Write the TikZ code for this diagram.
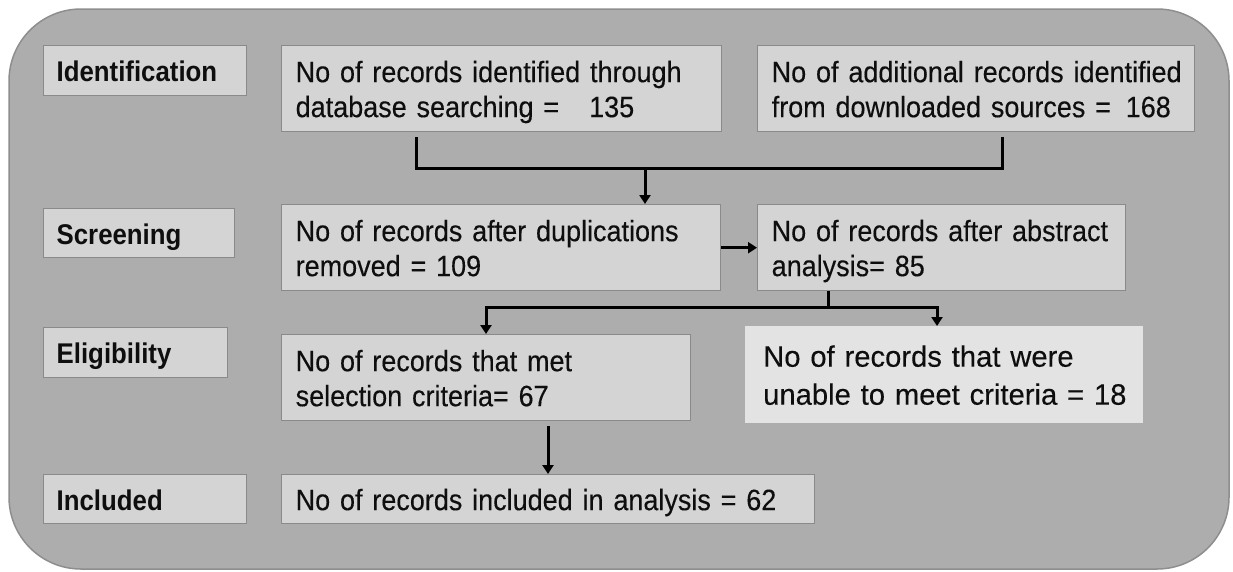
\documentclass[tikz,border=0pt]{standalone}
\usepackage{fontspec}
\setmainfont{Liberation Sans}[FakeStretch=0.915,FakeBold=0.25]
\newfontfamily\labfont{Liberation Sans}[FakeStretch=0.905]
\newfontfamily\widefont{Liberation Sans}[FakeStretch=0.99,FakeBold=0.25]
\usetikzlibrary{arrows.meta,calc}
\definecolor{outerfill}{HTML}{ADADAD}
\definecolor{outerline}{HTML}{8E8E8E}
\definecolor{boxfill}{HTML}{D4D4D4}
\definecolor{boxline}{HTML}{8A8A8A}
\definecolor{lightfill}{HTML}{E3E3E3}
\definecolor{inkc}{HTML}{0E0E0E}
\newcommand\lnst{\rule[-6pt]{0pt}{34pt}}
\begin{document}
\begin{tikzpicture}[x=1pt,y=-1pt,
  every node/.style={anchor=north west, inner ysep=0pt, text=inkc, align=left},
  lab/.style={fill=boxfill, draw=boxline, line width=1.4pt, inner xsep=13pt,
    font=\labfont\fontsize{28.5}{32}\selectfont\bfseries},
  rec/.style={fill=boxfill, draw=boxline, line width=1.4pt, inner xsep=14pt,
    font=\fontsize{29.5}{35}\selectfont},
  lightrec/.style={fill=lightfill, draw=none, inner xsep=18pt,
    font=\widefont\fontsize{29.5}{38}\selectfont},
  wire/.style={draw=black, line width=3pt, line join=miter},
  arr/.style={wire, -{Triangle[length=9pt,width=11pt]}}
]
\useasboundingbox (0,0) rectangle (1233,571);
\draw[fill=outerfill, draw=outerline, line width=1.5pt, rounded corners=72pt] (9,9) rectangle (1229,569);

% stage labels
\node[lab, text width=177pt, minimum height=50pt] (lid) at (43,45) {\lnst Identification};
\node[lab, text width=165pt, minimum height=49pt] (lsc) at (43,208) {\lnst Screening};
\node[lab, text width=158pt, minimum height=50pt] (lel) at (43,327) {\lnst Eligibility};
\node[lab, text width=177pt, minimum height=49pt] (lin) at (43,474) {\lnst Included};

% record boxes
\node[rec, text width=412pt, minimum height=86pt] (b1) at (281,45)
  {\mbox{\lnst No of records identified through}\\\mbox{\lnst database searching =\hspace{30pt}135}};
\node[rec, text width=409pt, minimum height=86pt] (b2) at (757,45)
  {\mbox{\lnst No of additional records identified}\\\mbox{\lnst from downloaded sources = \,168}};
\node[rec, text width=411pt, minimum height=86pt] (b3) at (281,204)
  {\mbox{\lnst No of records after duplications}\\\mbox{\lnst removed = 109}};
\node[rec, text width=340pt, minimum height=86pt] (b4) at (757,204)
  {\makebox[340pt][s]{\lnst No of records after abstract}\\\mbox{\lnst analysis= 85}};
\node[rec, text width=381pt, minimum height=86pt] (b5) at (281,334)
  {\mbox{\lnst No of records that met}\\\mbox{\lnst selection criteria= 67}};
\node[lightrec, text width=362pt, minimum height=97pt] (b6) at (745,326)
  {\mbox{\lnst No of records that were}\\\mbox{\lnst unable to meet criteria = 18}};
\node[rec, text width=505pt, minimum height=49pt] (b7) at (281,474)
  {\mbox{\lnst No of records included in analysis = 62}};

% connector points
\coordinate (j1) at ($(b1.south west)+(135,5)$);
\coordinate (j2) at ($(b2.south west)+(245,5)$);
\coordinate (h1) at ($(b3.north west)+(364,-36)$);
\coordinate (k) at ($(b4.south west)+(71,0)$);
\coordinate (hl) at ($(b5.north west)+(205,-27)$);
\coordinate (hr) at ($(b6.north west)+(192,-19)$);
\coordinate (e1) at ($(b5.south west)+(267,5)$);

\draw[wire] (j1) |- (h1) -| (j2);
\draw[arr] (h1) -- (h1 |- b3.north);
\draw[arr] (b3.east) -- (b4.west);
\draw[arr] (k) |- (hl) -- (hl |- b5.north);
\draw[arr] (k) |- (hr) -- (hr |- b6.north);
\draw[arr] (e1) -- (e1 |- b7.north);
\end{tikzpicture}
\end{document}
